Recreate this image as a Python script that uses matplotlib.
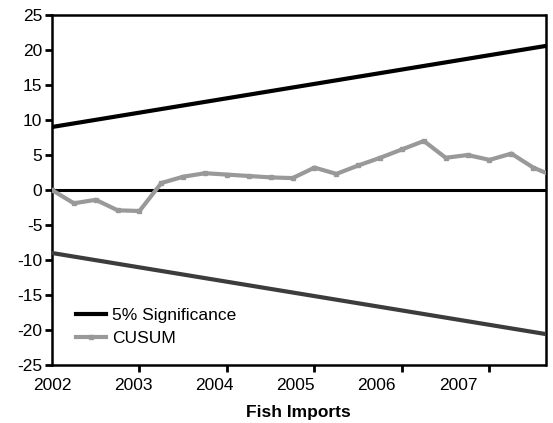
import matplotlib
matplotlib.use("Agg")
import matplotlib.pyplot as plt
import numpy as np

# Data
cusum_x = [2002.0, 2002.25, 2002.5, 2002.75, 2003.0, 2003.25, 2003.5, 2003.75,
           2004.0, 2004.25, 2004.5, 2004.75, 2005.0, 2005.25, 2005.5, 2005.75,
           2006.0, 2006.25, 2006.5, 2006.75, 2007.0, 2007.25, 2007.5, 2007.75]
cusum_y = [0.0, -1.9, -1.4, -2.9, -3.0, 1.0, 1.9, 2.4,
           2.2, 2.0, 1.8, 1.7, 3.2, 2.3, 3.5, 4.6,
           5.8, 7.0, 4.6, 5.0, 4.3, 5.2, 3.2, 1.9]
sig_x = [2002.0, 2007.75]
sig_upper = [9.0, 20.8]
sig_lower = [-9.0, -20.8]
year_ticks = [2002, 2003, 2004, 2005, 2006, 2007]
y_ticks = [-25, -20, -15, -10, -5, 0, 5, 10, 15, 20, 25]

plt.rcParams['font.family'] = ['Liberation Sans', 'DejaVu Sans']

fig = plt.figure(figsize=(5.53, 4.23), dpi=100)
ax = fig.add_axes([52/553, 1-365/423, (545.5-52)/553, (365-15)/423])

ax.axhline(0, color='black', lw=2.2, zorder=2)
ax.plot(sig_x, sig_upper, color='black', lw=3, label='5% Significance', zorder=3)
ax.plot(sig_x, sig_lower, color='#3c3c3c', lw=3, zorder=3)
ax.plot(cusum_x, cusum_y, color='#999999', lw=3, marker='s', markersize=3,
        markerfacecolor='#999999', markeredgecolor='#999999', label='CUSUM', zorder=4)

ax.set_xlim(2002, 2007.64)
ax.set_ylim(-25, 25)
ax.set_yticks(y_ticks)
ax.set_yticklabels([str(v) for v in y_ticks], fontsize=12.5)

# tick marks at years, labels slightly offset as in reference
ax.set_xticks(year_ticks, minor=True)
ax.tick_params(axis='x', which='minor', direction='out', length=5, width=2, bottom=True)
lab_pos = [y - 0.072 * (y - 2002) for y in year_ticks]
ax.set_xticks(lab_pos)
ax.set_xticklabels([str(y) for y in year_ticks], fontsize=12.5)
ax.tick_params(axis='x', which='major', length=0, pad=9)
ax.tick_params(axis='y', direction='out', length=5, width=2, pad=2)

for s in ax.spines.values():
    s.set_linewidth(1.8)

ax.set_xlabel('Fish Imports', fontsize=12.5, fontweight='bold', labelpad=9)

leg = ax.legend(loc='lower left', bbox_to_anchor=(0.035, 0.035), frameon=False,
                fontsize=12.5, handlelength=1.7, handletextpad=0.35, labelspacing=0.45,
                borderaxespad=0)

fig.savefig('out.png', dpi=100)
